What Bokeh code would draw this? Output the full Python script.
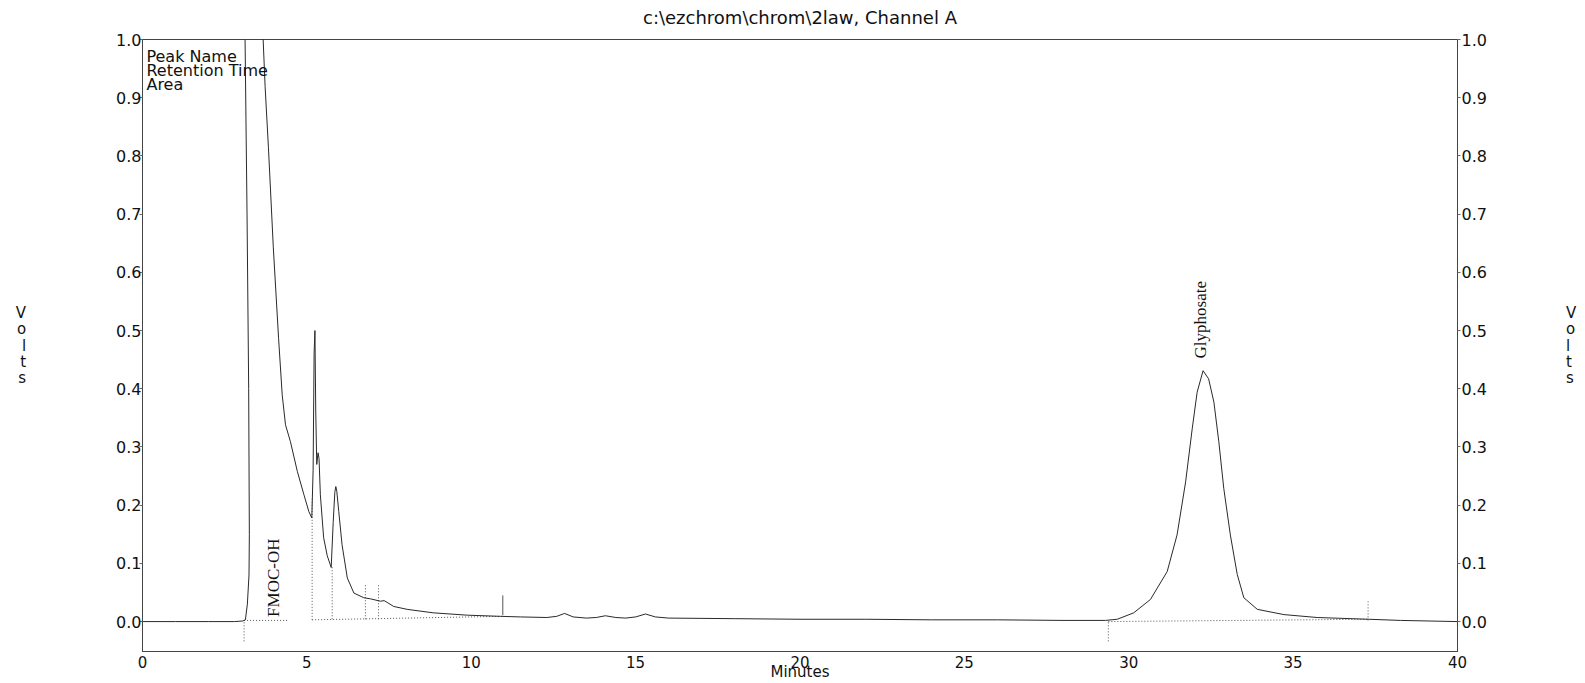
from bokeh.plotting import figure
from bokeh.models import Range1d, LinearAxis, FixedTicker
from bokeh.core.properties import value
from bokeh.embed import file_html
from bokeh.resources import INLINE
import math

title_text = "c:\\ezchrom\\chrom\\2law, Channel A"
legend_lines = ["Peak Name", "Retention Time", "Area"]
x_axis_label = "Minutes"
y_axis_label = "V\no\nl\nt\ns"

x_ticks = [0, 5, 10, 15, 20, 25, 30, 35, 40]
x_tick_labels = ["0", "5", "10", "15", "20", "25", "30", "35", "40"]
y_ticks = [0.0, 0.1, 0.2, 0.3, 0.4, 0.5, 0.6, 0.7, 0.8, 0.9, 1.0]
y_tick_labels = ["0.0", "0.1", "0.2", "0.3", "0.4", "0.5", "0.6", "0.7", "0.8", "0.9", "1.0"]

# chromatogram trace (minutes, volts)
time_min = [0.0, 1.0, 2.0, 2.8, 3.05, 3.13, 3.19, 3.24, 3.25, 3.23, 3.18, 3.12, 3.08,
            3.3, 3.55, 3.65, 3.67, 3.73, 3.83, 3.98, 4.14, 4.25, 4.35, 4.50, 4.71,
            4.91, 5.06, 5.15, 5.19, 5.22, 5.245, 5.27, 5.30, 5.34, 5.37, 5.41, 5.51,
            5.62, 5.74, 5.80, 5.85, 5.88, 5.91, 5.97, 6.07, 6.23, 6.43, 6.73, 6.94,
            7.24, 7.35, 7.44, 7.64, 8.05, 8.85, 9.88, 10.89, 11.5, 12.3, 12.6, 12.84,
            13.1, 13.5, 13.8, 14.08, 14.4, 14.7, 15.0, 15.3, 15.6, 16.0, 18.0, 20.0,
            22.0, 24.0, 26.0, 28.0, 29.29, 29.65, 30.15, 30.66, 31.17, 31.47, 31.73,
            31.93, 32.08, 32.26, 32.43, 32.59, 32.74, 32.89, 33.09, 33.30, 33.50,
            33.91, 34.72, 35.73, 37.30, 38.26, 40.0]
volts = [0.0, 0.0, 0.0, 0.0, 0.001, 0.003, 0.03, 0.08, 0.15, 0.4, 0.7, 1.0, 1.1,
         1.5, 1.5, 1.05, 1.0, 0.919, 0.815, 0.642, 0.486, 0.389, 0.338, 0.309, 0.258,
         0.218, 0.189, 0.178, 0.26, 0.46, 0.50, 0.36, 0.27, 0.29, 0.28, 0.218, 0.144,
         0.113, 0.093, 0.17, 0.222, 0.232, 0.224, 0.189, 0.132, 0.075, 0.049, 0.041, 0.039,
         0.035, 0.036, 0.033, 0.026, 0.021, 0.015, 0.011, 0.009, 0.008, 0.007, 0.009, 0.014,
         0.008, 0.006, 0.007, 0.010, 0.007, 0.006, 0.008, 0.013, 0.008, 0.006, 0.005, 0.004,
         0.004, 0.003, 0.003, 0.002, 0.002, 0.004, 0.015, 0.038, 0.086, 0.149, 0.24,
         0.331, 0.394, 0.431, 0.417, 0.377, 0.309, 0.229, 0.149, 0.081, 0.041,
         0.021, 0.012, 0.007, 0.004, 0.002, 0.0]
assert len(time_min) == len(volts)

# integration drop lines (dotted)
drop_x = [3.09, 5.16, 5.77, 6.78, 7.18, 29.38, 37.28]
drop_top = [0.0, 0.21, 0.095, 0.063, 0.063, 0.0, 0.036]
drop_bottom = [-0.034, 0.003, 0.004, 0.004, 0.004, -0.034, 0.002]

# solid event mark
event_x = [10.96]
event_top = [0.045]
event_bottom = [0.011]

# dotted baselines
base_x0 = [3.09, 5.16, 29.38]
base_y0 = [0.002, 0.003, 0.0]
base_x1 = [4.45, 10.96, 37.28]
base_y1 = [0.002, 0.009, 0.004]

peak_names = ["FMOC-OH", "Glyphosate"]
peak_label_x = [3.98, 32.18]
peak_label_y = [0.008, 0.452]

font = "DejaVu Sans"
ink = "#111111"

p = figure(width=1585, height=683, output_backend="svg", toolbar_location=None,
           x_range=Range1d(0, 40), y_range=Range1d(-0.0514, 1.0),
           min_border_left=142, min_border_right=128, min_border_top=39,
           min_border_bottom=31)
p.title.visible = False
p.background_fill_color = "white"
p.border_fill_color = "white"
p.outline_line_color = "#444444"
p.outline_line_width = 1
p.xgrid.visible = False
p.ygrid.visible = False

# bottom (time) axis
xa = p.below[0]
xa.ticker = FixedTicker(ticks=x_ticks)
xa.major_label_overrides = {t: l for t, l in zip(x_ticks, x_tick_labels)}
xa.major_tick_out = 0
xa.major_tick_in = 0
xa.minor_tick_out = 0
xa.minor_tick_in = 0
xa.major_label_standoff = 4
xa.axis_line_color = "#444444"
xa.major_label_text_font = font
xa.major_label_text_font_size = "15px"
xa.major_label_text_color = ink
xa.axis_label = x_axis_label
xa.axis_label_standoff = -8
xa.axis_label_text_font = font
xa.axis_label_text_font_size = "15px"
xa.axis_label_text_font_style = "normal"
xa.axis_label_text_color = ink

# chart title, carried by a tickless axis above the frame
ta = LinearAxis(ticker=FixedTicker(ticks=[], minor_ticks=[]), axis_line_color=None,
                major_tick_line_color=None, minor_tick_line_color=None)
ta.axis_label = title_text
ta.axis_label_standoff = 12
ta.axis_label_text_font = font
ta.axis_label_text_font_size = "18px"
ta.axis_label_text_font_style = "normal"
ta.axis_label_text_color = ink
p.add_layout(ta, "above")

ya = p.left[0]
ra = LinearAxis()
p.add_layout(ra, "right")
for ax, st, lst in ((ya, 87, -2), (ra, 76, 1)):
    ax.ticker = FixedTicker(ticks=y_ticks)
    ax.major_label_overrides = {t: l for t, l in zip(y_ticks, y_tick_labels)}
    ax.major_tick_out = 3
    ax.major_tick_in = 0
    ax.minor_tick_out = 0
    ax.minor_tick_in = 0
    ax.major_label_standoff = lst
    ax.axis_line_color = "#444444"
    ax.major_tick_line_color = "#666666"
    ax.major_label_text_font = font
    ax.major_label_text_font_size = "16px"
    ax.major_label_text_color = ink
    ax.axis_label = y_axis_label
    ax.axis_label_orientation = "horizontal"
    ax.axis_label_standoff = st
    ax.axis_label_text_font = font
    ax.axis_label_text_font_size = "15px"
    ax.axis_label_text_font_style = "normal"
    ax.axis_label_text_line_height = 0.9
    ax.axis_label_text_color = ink

# dotted baselines and drop lines
p.segment(x0=base_x0, y0=base_y0, x1=base_x1, y1=base_y1,
          line_color="#555555", line_width=1, line_dash="1 2")
p.segment(x0=drop_x, y0=drop_bottom, x1=drop_x, y1=drop_top,
          line_color="#555555", line_width=1, line_dash="1 2")
p.segment(x0=event_x, y0=event_bottom, x1=event_x, y1=event_top,
          line_color="#555555", line_width=1)

# trace
p.line(time_min, volts, line_color="#2a2a2a", line_width=1)

# peak labels
p.text(x=peak_label_x, y=peak_label_y, text=peak_names, angle=math.pi / 2,
       text_font=value("Liberation Serif"), text_font_size="17px",
       text_align="left", text_baseline="middle", text_color=ink)

# legend block (inside the frame, top-left)
legend_y = [0.971, 0.947, 0.923]
p.text(x=[0.12] * len(legend_lines), y=legend_y, text=legend_lines,
       text_font=value(font), text_font_size="16px", text_align="left",
       text_baseline="middle", text_color=ink)

open("out.html", "w").write(file_html(p, INLINE))
